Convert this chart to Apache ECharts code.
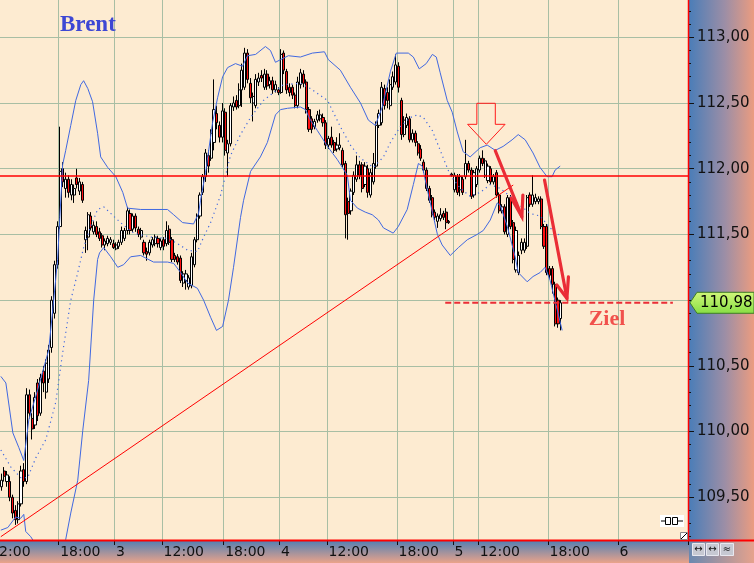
<!DOCTYPE html>
<html>
<head>
<meta charset="utf-8">
<script src="https://cdn.jsdelivr.net/npm/echarts@6/dist/echarts.min.js"></script>
<style>
html,body{margin:0;padding:0;width:754px;height:563px;overflow:hidden;background:#fdebd1;}
#wrap{position:relative;width:754px;height:563px;}
#pr{position:absolute;left:689px;top:0;width:65px;height:541px;background:linear-gradient(to right,#4a7db8,#9c8ea6 55%,#eb9c80);}
#pb{position:absolute;left:0;top:541px;width:689px;height:22px;background:linear-gradient(to bottom,#5580b2,#eaa38a);}
#pc{position:absolute;left:689px;top:541px;width:65px;height:22px;background:linear-gradient(to right,#6a88b0,#e6a28c);}
#c{position:absolute;left:0;top:0;width:754px;height:563px;}
</style>
</head>
<body>
<div id="wrap"><div id="pr"></div><div id="pb"></div><div id="pc"></div><div id="c"></div></div>
<script>
// ---- axis ticks / labels ----
const tickIdx = [0, 25, 45, 62, 84, 104, 121, 146, 166, 175, 200, 225];
const tickLbl = ['12:00', '18:00', '3', '12:00', '18:00', '4', '12:00', '18:00', '5', '12:00', '18:00', '6'];
const slotCount = 250;
const firstSlot = 4;
const yMin = 109.175, yMax = 113.284;
const yTicks = [109.5, 110, 110.5, 111, 111.5, 112, 112.5, 113];

// ---- candles [open, close, low, high] ----
const day2 = [
[109.66,109.70,109.62,109.74],[109.70,109.64,109.60,109.73],[109.64,109.68,109.61,109.72],[109.68,109.60,109.56,109.70],
[109.58,109.63,109.55,109.68],[109.70,109.66,109.62,109.73],[109.62,109.67,109.58,109.70],[109.62,109.50,109.47,109.66],
[109.50,109.38,109.34,109.52],[109.40,109.33,109.29,109.44],[109.33,109.45,109.30,109.47],[109.45,109.70,109.43,109.74],
[109.71,109.62,109.58,109.76],[109.62,110.28,109.60,110.33],[110.28,110.14,110.10,110.32],[110.10,110.02,109.94,110.14],
[110.05,110.26,110.02,110.30],[110.37,110.12,110.08,110.40],[110.14,110.41,110.12,110.44],[110.46,110.37,110.30,110.50],
[110.30,110.52,110.25,110.55],[110.40,110.62,110.37,110.66],[110.64,111.00,110.60,111.03],[110.90,111.27,110.86,111.30],
[111.27,111.56,111.24,111.60],[111.56,111.98,111.54,112.32],[112.00,111.90,111.86,112.05],[111.85,111.92,111.78,111.97],
[111.92,111.82,111.78,111.95],[111.80,111.88,111.76,111.92],[111.80,111.85,111.74,111.88],[111.93,111.88,111.85,112.00],
[111.83,111.90,111.80,111.93],[111.88,111.76,111.74,111.90],[111.46,111.53,111.36,111.56],[111.48,111.65,111.38,111.67],
[111.64,111.55,111.53,111.67],[111.52,111.57,111.50,111.60],[111.56,111.50,111.48,111.60],[111.52,111.47,111.45,111.55],
[111.49,111.42,111.40,111.51],[111.42,111.45,111.38,111.47],[111.43,111.47,111.41,111.49],[111.44,111.46,111.42,111.48],
[111.43,111.40,111.39,111.46]
];
const day3 = [
[111.39,111.42,111.38,111.44],[111.41,111.44,111.39,111.46],[111.44,111.53,111.42,111.56],[111.47,111.53,111.45,111.55],
[111.53,111.68,111.50,111.71],[111.66,111.53,111.50,111.69],[111.54,111.64,111.52,111.66],[111.64,111.55,111.52,111.66],
[111.54,111.50,111.48,111.56],[111.48,111.53,111.46,111.55],[111.44,111.36,111.34,111.46],[111.37,111.35,111.30,111.40],
[111.36,111.44,111.34,111.46],[111.42,111.46,111.40,111.48],[111.43,111.48,111.41,111.50],[111.47,111.43,111.40,111.49],
[111.40,111.45,111.38,111.47],[111.46,111.41,111.38,111.48],[111.43,111.53,111.41,111.60],[111.54,111.44,111.42,111.57],
[111.46,111.31,111.29,111.48],[111.34,111.31,111.29,111.36],[111.33,111.29,111.27,111.35],[111.32,111.15,111.13,111.34],
[111.13,111.20,111.10,111.22],[111.15,111.20,111.08,111.23],[111.10,111.17,111.08,111.19],[111.11,111.33,111.09,111.36],
[111.27,111.46,111.25,111.48],[111.46,111.64,111.44,111.66],[111.64,111.80,111.62,111.82],[111.82,111.94,111.80,111.96],
[111.94,112.12,111.90,112.15],[112.10,112.02,111.97,112.14],[112.08,112.27,112.06,112.30],[112.20,112.45,112.14,112.68],
[112.42,112.35,112.30,112.48],[112.33,112.24,112.20,112.36],[112.24,112.44,112.20,112.50],[112.43,112.14,112.10,112.46],
[112.12,112.19,111.94,112.22],[112.19,112.48,112.17,112.50],[112.47,112.50,112.44,112.55],[112.52,112.47,112.45,112.56],
[112.48,112.60,112.46,112.65],[112.60,112.75,112.47,112.80],[112.62,112.88,112.60,112.92],[112.88,112.68,112.65,112.91],
[112.65,112.54,112.50,112.69],[112.50,112.55,112.36,112.58],[112.48,112.68,112.46,112.72],[112.66,112.69,112.63,112.73],
[112.71,112.69,112.66,112.75],[112.62,112.72,112.60,112.76],[112.72,112.63,112.60,112.75],[112.64,112.67,112.61,112.70],
[112.67,112.60,112.57,112.70],[112.60,112.64,112.58,112.67],[112.60,112.58,112.56,112.62],[112.58,112.87,112.57,112.91]
];
const day4 = [
[112.88,112.75,112.72,112.90],[112.74,112.60,112.57,112.76],[112.62,112.58,112.55,112.65],[112.62,112.56,112.53,112.64],
[112.56,112.48,112.46,112.58],[112.48,112.66,112.46,112.70],[112.64,112.73,112.61,112.76],[112.72,112.65,112.62,112.75],
[112.66,112.45,112.42,112.68],[112.45,112.30,112.28,112.47],[112.38,112.30,112.27,112.40],[112.32,112.36,112.30,112.38],
[112.37,112.41,112.35,112.44],[112.38,112.41,112.36,112.45],[112.39,112.35,112.32,112.42],[112.35,112.18,112.15,112.37],
[112.18,112.23,112.15,112.25],[112.24,112.18,112.16,112.32],[112.20,112.14,112.12,112.22],[112.15,112.18,112.13,112.24],
[112.16,112.18,112.14,112.27],[112.14,112.03,112.01,112.16],[112.04,111.65,111.47,112.06],[111.75,111.66,111.46,111.78],
[111.68,111.83,111.65,111.85],[111.82,111.95,111.80,111.98],[111.92,112.03,111.90,112.10],[112.03,111.95,111.92,112.06],
[112.03,111.85,111.82,112.05],[111.88,112.02,111.86,112.05],[112.00,111.82,111.78,112.03],[111.80,111.97,111.78,112.00],
[111.90,112.04,111.88,112.12],[112.02,112.33,112.00,112.36],[112.33,112.42,112.31,112.45],[112.35,112.62,112.33,112.66],
[112.61,112.48,112.45,112.64],[112.58,112.52,112.46,112.62],[112.48,112.64,112.45,112.68],[112.62,112.70,112.60,112.74],
[112.66,112.79,112.64,112.87],[112.78,112.62,112.58,112.81],[112.52,112.26,112.22,112.54],[112.26,112.37,112.24,112.40],
[112.33,112.39,112.31,112.42],[112.38,112.22,112.20,112.40],[112.22,112.27,112.20,112.30],[112.27,112.20,112.17,112.29],
[112.19,112.12,112.10,112.21],[112.15,112.08,112.06,112.18],[112.05,111.99,111.97,112.07],[111.99,111.85,111.83,112.01],
[111.85,111.76,111.74,111.87],[111.78,111.65,111.63,111.80],[111.67,111.63,111.61,111.69],[111.60,111.64,111.55,111.66],
[111.62,111.65,111.60,111.70],[111.66,111.63,111.61,111.68],[111.67,111.59,111.54,111.70],[111.60,111.59,111.58,111.61]
];
const day5 = [
[111.96,111.95,111.94,111.97],[111.84,111.95,111.82,111.97],[111.94,111.82,111.80,111.96],[111.84,111.94,111.79,111.96],
[111.92,111.82,111.80,111.94],[111.94,112.04,111.92,112.22],[112.04,111.99,111.97,112.06],[111.99,111.79,111.77,112.01],
[111.80,111.97,111.78,111.99],[111.88,112.00,111.86,112.02],[111.99,112.08,111.97,112.10],[112.08,112.04,112.02,112.14],
[111.95,112.06,111.93,112.08],[111.91,112.02,111.89,112.04],[112.00,111.90,111.88,112.02],[111.90,111.94,111.88,111.96],
[111.97,111.80,111.78,111.99],[111.80,111.68,111.66,111.82],[111.68,111.71,111.66,111.73],[111.71,111.52,111.50,111.73],
[111.50,111.78,111.48,111.80],[111.78,111.56,111.54,111.80],[111.59,111.31,111.28,111.61],[111.23,111.53,111.21,111.56],
[111.21,111.34,111.19,111.37],[111.38,111.44,111.35,111.47],[111.38,111.44,111.36,111.47],[111.41,111.78,111.39,111.80],
[111.80,111.73,111.71,111.82],[111.73,111.80,111.71,111.95],[111.75,111.78,111.73,111.81],[111.75,111.77,111.73,111.79],
[111.77,111.56,111.54,111.79],[111.56,111.41,111.39,111.58],[111.56,111.21,111.19,111.58],[111.24,111.19,111.16,111.26],
[111.24,111.12,111.05,111.26],[111.12,110.82,110.80,111.14],[111.00,110.82,110.79,111.02],[110.86,110.98,110.77,111.00]
];

// ---- Bollinger bands [slot, price] ----
const upperBand = [[4.3,110.42],[6.1,110.37],[8.6,109.99],[10.7,109.88],[12.5,109.78],[14.3,110.09],[17.5,110.32],[21.4,110.62],[23.2,111.00],[24.6,111.31],[25.4,111.63],[26.4,112.03],[27.5,112.14],[29.3,112.33],[31.1,112.52],[32.9,112.64],[33.9,112.67],[35.4,112.61],[37.1,112.51],[38.9,112.27],[40,112.09],[42.5,112.01],[45.4,111.94],[47.9,111.82],[49.6,111.70],[54.3,111.69],[63.9,111.69],[66.1,111.65],[69.3,111.59],[73.2,111.58],[75,111.66],[75.7,111.76],[77.5,111.97],[80,112.35],[81.8,112.54],[83.6,112.70],[85.4,112.77],[88.2,112.80],[90.7,112.78],[92.5,112.86],[95.4,112.87],[98.9,112.93],[100.7,112.90],[102.5,112.81],[104.3,112.83],[107.1,112.86],[111.4,112.85],[115.7,112.88],[120,112.89],[121.4,112.83],[125.7,112.75],[129.3,112.62],[132.9,112.50],[135.7,112.37],[138.2,112.33],[140.7,112.47],[143.6,112.74],[145.7,112.88],[150,112.88],[151.8,112.85],[153.9,112.76],[156.4,112.80],[158.6,112.87],[160,112.85],[161.4,112.73],[163.9,112.52],[165.7,112.43],[167.5,112.28],[169.6,112.13],[172.1,112.09],[175.7,112.16],[178.2,112.18],[181.1,112.14],[183.9,112.17],[187.1,112.22],[189.3,112.26],[191.8,112.22],[194.6,112.12],[197.1,112.01],[199.6,111.94],[201.4,111.94],[202.5,111.99],[204.3,112.02]];
const lowerBand = [[4.3,109.25],[6.8,109.27],[9.6,109.35],[11.4,109.34],[12.5,109.37],[13.2,109.24],[15,109.20],[16.8,109.14],[20.4,109.02],[23.9,108.98],[26.4,109.06],[27.5,109.18],[29.3,109.38],[31.8,109.63],[33.6,110.01],[35.7,110.39],[37.5,111.00],[38.9,111.31],[39.6,111.36],[41.1,111.40],[43.6,111.33],[46.1,111.25],[48.2,111.27],[50.7,111.33],[54.3,111.34],[58.9,111.29],[63.9,111.29],[66.1,111.28],[68.6,111.21],[71.1,111.13],[74.6,111.09],[76.8,111.00],[79.3,110.87],[81.4,110.77],[83.6,110.80],[85.7,111.00],[87.5,111.25],[90,111.63],[91.1,111.76],[93.6,111.98],[97.1,112.09],[99.6,112.20],[102.5,112.41],[104.3,112.45],[106.8,112.46],[111.4,112.47],[113.2,112.45],[115,112.37],[117.5,112.29],[121.1,112.17],[124.6,112.07],[128.2,111.95],[129.3,111.76],[131.8,111.70],[134.6,111.67],[137.1,111.65],[139.3,111.61],[141.1,111.55],[144.6,111.51],[146.4,111.56],[149.6,111.69],[151.8,111.88],[153.6,112.04],[155,112.02],[156.8,111.84],[158.6,111.67],[160.4,111.50],[162.1,111.42],[165,111.34],[167.9,111.40],[171.1,111.46],[174.6,111.50],[176.8,111.53],[179.3,111.61],[181.8,111.74],[182.9,111.72],[185.4,111.56],[188.2,111.33],[189.3,111.21],[192.5,111.14],[194.6,111.18],[197.1,111.21],[198.9,111.25],[200.7,111.15],[203.2,110.93],[205,110.77]];
const midBand = [[4.3,109.86],[7.9,109.73],[11.4,109.65],[13.9,109.65],[16.8,109.80],[20.4,109.94],[23.9,110.22],[26.4,110.60],[29.3,111.00],[31.8,111.21],[33.9,111.40],[36.4,111.56],[38.9,111.69],[41.1,111.71],[43.6,111.66],[47.1,111.59],[51.8,111.51],[57.9,111.48],[63.9,111.47],[67.5,111.43],[71.1,111.38],[74.6,111.37],[76.8,111.48],[79.3,111.59],[82.9,111.80],[86.4,112.10],[90,112.26],[93.6,112.39],[98.2,112.52],[105.4,112.64],[111.4,112.65],[115,112.61],[121.1,112.52],[125.7,112.32],[129.3,112.18],[132.9,112.08],[137.5,112.01],[141.1,112.09],[143.6,112.20],[147.1,112.32],[150.7,112.39],[153.2,112.41],[155.4,112.39],[158.6,112.29],[161.4,112.14],[165,111.95],[168.6,111.85],[172.1,111.79],[175.7,111.82],[179.3,111.88],[182.9,111.85],[186.4,111.79],[190,111.72],[193.6,111.66],[197.1,111.64],[200.7,111.55],[204.3,111.49]];

// ---- annotations [slot, price] ----
const resistanceLevel = 111.945;
const trendLine = [[4.29,109.20],[187.5,111.876]];
const targetLevel = 110.98;
const targetLine = [[163.2,110.98],[244.6,110.98]];
const targetText = [[214.3,110.855]];
const hollowArrow = [[174.5,112.498],[181.1,112.498],[181.1,112.338],[184.6,112.338],[177.9,112.186],[171.2,112.338],[174.5,112.338],[174.5,112.498]];
const arrow1 = [[181.1,112.137],[190.6,111.635]];
const arrow1Head = [[186.8,111.777],[190.6,111.635],[190.96,111.800]];
const arrow2 = [[198.7,111.914],[206.7,111.014]];
const arrow2Head = [[203.1,111.115],[206.7,111.014],[207.25,111.178]];

// ---- build ----
const candles = day2.concat(day3, day4, day5);
const cats = [];
for (let i = 0; i < slotCount; i++) cats.push(String(i));
const tickSet = new Set(tickIdx);
const labelMap = {};
tickIdx.forEach((k, j) => { labelMap[k] = tickLbl[j]; });
const yMinor = [];
for (let k = 1092; k <= 1132; k++) yMinor.push(k / 10);

const gridCol = '#a8bea4';
const bandCol = '#4068e0';
const arrowCol = '#ea2d36';
const axisFont = 'DejaVu Sans';

function lineSeries(data, style, z) {
  return { type: 'line', xAxisIndex: 1, yAxisIndex: 0, data: data, symbol: 'none', showSymbol: false,
    lineStyle: style, z: z || 4, silent: true, animation: false };
}

const chart = echarts.init(document.getElementById('c'), null, { renderer: 'canvas' });
const option = {
  animation: false,
  backgroundColor: 'transparent',
  title: { text: 'Brent', left: 60, top: 14, padding: 0,
    textStyle: { color: '#3d47d4', fontSize: 23, fontWeight: 'bold', fontFamily: "'Liberation Serif','DejaVu Serif',serif",
      textShadowColor: 'rgba(220,70,140,0.55)', textShadowOffsetX: -1, textShadowOffsetY: 0, textShadowBlur: 0 } },
  grid: { left: 0, right: 66, top: 0, bottom: 23 },
  xAxis: [
    { type: 'category', data: cats, boundaryGap: true, min: firstSlot, max: slotCount - 1,
      axisLine: { show: false },
      axisTick: { show: true, interval: (i) => tickSet.has(i), length: 5, lineStyle: { color: '#111', width: 1 } },
      axisLabel: { interval: (i) => tickSet.has(i), formatter: (v) => labelMap[+v] || '', align: 'left', margin: 5,
        fontSize: 14, color: '#111', fontFamily: axisFont },
      splitLine: { show: true, interval: (i) => tickSet.has(i), lineStyle: { color: gridCol, width: 1 } } },
    { type: 'value', min: firstSlot, max: slotCount, show: false }
  ],
  yAxis: [
    { type: 'value', position: 'right', min: yMin, max: yMax, axisLine: { show: false },
      axisTick: { show: true, customValues: yTicks, length: 6, lineStyle: { color: '#111' } },
      axisLabel: { customValues: yTicks, formatter: (v) => v.toFixed(2).replace('.', ','), margin: 9,
        fontSize: 15, color: '#111', fontFamily: axisFont },
      splitLine: { show: true, lineStyle: { color: gridCol, width: 1 } } },
    { type: 'value', position: 'right', min: yMin, max: yMax, axisLine: { show: false },
      axisTick: { show: true, customValues: yMinor, length: 3, lineStyle: { color: '#111' } },
      axisLabel: { show: false }, splitLine: { show: false } }
  ],
  series: [
    { type: 'candlestick', xAxisIndex: 0, yAxisIndex: 0, data: candles, barWidth: 2.6, z: 3, silent: true,
      itemStyle: { color: '#ffffff', color0: '#ff1010', borderColor: '#000', borderColor0: '#000', borderColorDoji: '#000', borderWidth: 1 } },
    lineSeries(upperBand, { color: bandCol, width: 1 }),
    lineSeries(lowerBand, { color: bandCol, width: 1 }),
    lineSeries(midBand, { color: bandCol, width: 1.2, type: [1.2, 3.6] }),
    lineSeries([[firstSlot, resistanceLevel], [slotCount, resistanceLevel]], { color: '#ff0000', width: 1.6 }, 5),
    lineSeries(trendLine, { color: '#ff0000', width: 1 }, 5),
    lineSeries(targetLine, { color: arrowCol, width: 2, type: [6, 3] }, 5),
    lineSeries(hollowArrow, { color: '#ff1a1a', width: 1 }, 6),
    lineSeries(arrow1, { color: arrowCol, width: 3.2, cap: 'round' }, 6),
    lineSeries(arrow1Head, { color: arrowCol, width: 3.2, cap: 'round', join: 'miter' }, 6),
    lineSeries(arrow2, { color: arrowCol, width: 3.2, cap: 'round' }, 6),
    lineSeries(arrow2Head, { color: arrowCol, width: 3.2, cap: 'round', join: 'miter' }, 6),
    { type: 'scatter', xAxisIndex: 1, yAxisIndex: 0, data: targetText, symbolSize: 1, silent: true, z: 7,
      itemStyle: { color: 'rgba(0,0,0,0)' },
      label: { show: true, formatter: 'Ziel', position: 'right', distance: 0, color: '#ee2a2a', fontSize: 22,
        fontWeight: 'bold', fontFamily: "'Liberation Serif','DejaVu Serif',serif" } }
  ]
};
chart.setOption(option);

// price tag, cut-off first time label and chrome, positioned through the scales
const ty = chart.convertToPixel({ yAxisIndex: 0 }, targetLevel);
const firstLblX = chart.convertToPixel({ xAxisIndex: 1 }, tickIdx[0] + 0.5);
chart.setOption({
  graphic: [
    { type: 'text', z: 40, x: firstLblX, y: 545, style: { text: tickLbl[0], fill: '#111', font: '14px "' + axisFont + '"', align: 'left', verticalAlign: 'top' } },
    { type: 'line', z: 50, shape: { x1: 688.5, y1: 0, x2: 688.5, y2: 541 }, style: { stroke: '#ff0000', lineWidth: 1.5 } },
    { type: 'line', z: 50, shape: { x1: 0, y1: 540.5, x2: 754, y2: 540.5 }, style: { stroke: '#ff0000', lineWidth: 2 } },
    { type: 'polygon', z: 60, shape: { points: [[690, ty], [697, ty - 10.5], [754, ty - 10.5], [754, ty + 10.5], [697, ty + 10.5]] },
      style: { fill: new echarts.graphic.LinearGradient(0, 0, 0, 1, [{ offset: 0, color: '#d2f77a' }, { offset: 1, color: '#86de44' }]),
        stroke: '#3f7d26', lineWidth: 1 } },
    { type: 'text', z: 61, x: 700, y: ty, style: { text: '110,98', fill: '#000', font: '15px "' + axisFont + '"', verticalAlign: 'middle', align: 'left' } },
    { type: 'rect', z: 55, shape: { x: 660, y: 515, width: 24, height: 12 }, style: { fill: '#ffffff' } },
    { type: 'line', z: 56, shape: { x1: 661, y1: 521, x2: 665, y2: 521 }, style: { stroke: '#000', lineWidth: 1 } },
    { type: 'rect', z: 56, shape: { x: 665.5, y: 517.5, width: 5, height: 7 }, style: { fill: 'none', stroke: '#000', lineWidth: 1 } },
    { type: 'rect', z: 56, shape: { x: 672.5, y: 517.5, width: 5, height: 7 }, style: { fill: 'none', stroke: '#000', lineWidth: 1 } },
    { type: 'line', z: 56, shape: { x1: 678, y1: 521, x2: 683, y2: 521 }, style: { stroke: '#000', lineWidth: 1 } },
    { type: 'rect', z: 55, shape: { x: 680.5, y: 532.5, width: 7, height: 7 }, style: { fill: '#ffffff', stroke: '#888', lineWidth: 1 } },
    { type: 'line', z: 56, shape: { x1: 681, y1: 539, x2: 687, y2: 533 }, style: { stroke: '#000', lineWidth: 1 } },
    { type: 'rect', z: 55, shape: { x: 692.5, y: 543.5, width: 12, height: 12 }, style: { fill: '#c6c8d2', stroke: '#e8e8f0', lineWidth: 1 } },
    { type: 'rect', z: 55, shape: { x: 706.5, y: 543.5, width: 12, height: 12 }, style: { fill: '#c6c8d2', stroke: '#e8e8f0', lineWidth: 1 } },
    { type: 'rect', z: 55, shape: { x: 720.5, y: 543.5, width: 13, height: 12 }, style: { fill: '#c6c8d2', stroke: '#e8e8f0', lineWidth: 1 } },
    { type: 'text', z: 56, x: 698.5, y: 549.5, style: { text: '↔', fill: '#111', font: '10px "DejaVu Sans"', align: 'center', verticalAlign: 'middle' } },
    { type: 'text', z: 56, x: 712.5, y: 549.5, style: { text: '↔', fill: '#111', font: '10px "DejaVu Sans"', align: 'center', verticalAlign: 'middle' } },
    { type: 'text', z: 56, x: 727, y: 549.5, style: { text: '≈', fill: '#111', font: '10px "DejaVu Sans"', align: 'center', verticalAlign: 'middle' } }
  ]
});
</script>
</body>
</html>
